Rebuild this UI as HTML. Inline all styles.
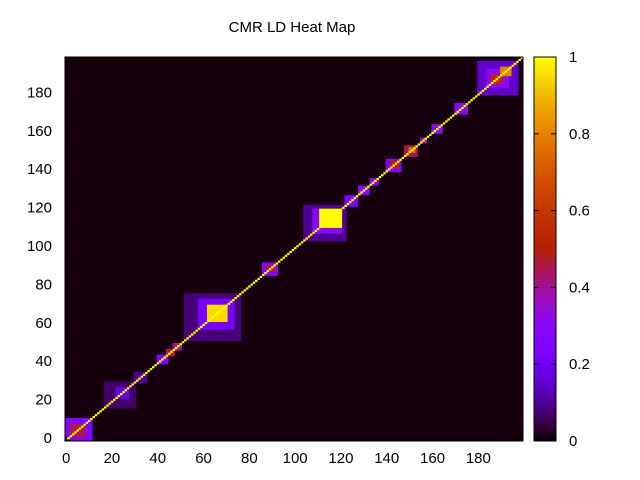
<!DOCTYPE html>
<html><head><meta charset="utf-8"><style>
body{margin:0;background:#fff;}
svg{display:block;font-family:"Liberation Sans",sans-serif;}
</style></head><body>
<svg id="c" width="640" height="480">
<text x="292" y="32" font-size="15" text-anchor="middle">CMR LD Heat Map</text>
<g id="plot"></g><g id="axes"></g>
</svg>
<script>
const blockStarts=[0,2,17,22,30,40,44,47,52,58,62,86,88,104,108,111,122,128,133,140,142,148,150,155,160,170,180,184,186,190];
const blockEnds  =[11,8,30,27,35,44,47,50,76,73,70,92,91,122,120,120,127,132,136,146,145,153,152,157,164,175,197,193,190,194];
const blockValues=[0.25,0.45,0.07,0.18,0.1,0.25,0.45,0.4,0.08,0.22,0.95,0.28,0.45,0.1,0.3,1.0,0.25,0.3,0.3,0.25,0.5,0.45,0.75,0.35,0.3,0.3,0.15,0.3,0.55,0.8];
const backgroundValue=0.008;
const nCells=200;
const xTicks=[0,20,40,60,80,100,120,140,160,180];
const yTicks=[0,20,40,60,80,100,120,140,160,180];
const cbTicks=[0,0.2,0.4,0.6,0.8,1];
const cbLabels=["0","0.2","0.4","0.6","0.8","1"];

const L=65,R=523,T=57,B=441;
const xs=v=>L+(v+0.5)*(R-L)/200;
const ys=v=>B-(v+0.5)*(B-T)/200;
function col(v){const r=Math.sqrt(v),g=v*v*v,b=Math.max(0,Math.sin(2*Math.PI*v));
return `rgb(${Math.round(r*255)},${Math.round(g*255)},${Math.round(b*255)})`;}
const NS="http://www.w3.org/2000/svg";
const plot=document.getElementById('plot'),axes=document.getElementById('axes');
function mk(t,a,p){const e=document.createElementNS(NS,t);for(const k in a)e.setAttribute(k,a[k]);p.appendChild(e);return e;}
let bg=mk('rect',{x:L,y:T,width:R-L,height:B-T,fill:col(backgroundValue)},plot);


blockStarts.forEach((s,i)=>{const e=blockEnds[i];
 const r=mk('rect',{x:xs(s-0.5),y:ys(e+0.5),width:xs(e+0.5)-xs(s-0.5),height:ys(s-0.5)-ys(e+0.5),fill:col(blockValues[i])},plot);
 
 });
for(let i=0;i<nCells;i++){
 const r=mk('rect',{x:xs(i-0.5),y:ys(i+0.5),width:xs(0.5)-xs(-0.5)+0.2,height:ys(-0.5)-ys(0.5)+0.2,fill:col(1)},plot);
 
 }
const fr=mk('rect',{x:L,y:T,width:R-L,height:B-T,fill:'none',stroke:'#000','stroke-width':1},axes);


xTicks.forEach(t=>{const x=xs(t);
 mk('line',{x1:x,x2:x,y1:B,y2:B-5,stroke:'#000'},axes);
 const tx=mk('text',{x:x,y:B+22,'font-size':15,'text-anchor':'middle'},axes);tx.textContent=t;
 
 });
yTicks.forEach(t=>{const y=ys(t);
 mk('line',{x1:L,x2:L+5,y1:y,y2:y,stroke:'#000'},axes);
 const tx=mk('text',{x:L-13,y:y+3,'font-size':15,'text-anchor':'end'},axes);tx.textContent=t;
 
 });
const CL=534,CR=556,CT=57,CB=441;
const defs=mk('defs',{},axes);const gr=mk('linearGradient',{id:'cg',x1:0,y1:1,x2:0,y2:0},defs);
for(let i=0;i<=50;i++){const v=i/50;mk('stop',{offset:v,'stop-color':col(v)},gr);}
const cb=mk('rect',{x:CL,y:CT,width:CR-CL,height:CB-CT,fill:'url(#cg)',stroke:'#000'},axes);


cbTicks.forEach((t,i)=>{const y=CB-t*(CB-CT);
 mk('line',{x1:CL,x2:CL+5,y1:y,y2:y,stroke:'#000'},axes);
 mk('line',{x1:CR,x2:CR-5,y1:y,y2:y,stroke:'#000'},axes);
 const tx=mk('text',{x:569,y:y+5,'font-size':15},axes);tx.textContent=cbLabels[i];
 
 });
</script>
</body></html>
